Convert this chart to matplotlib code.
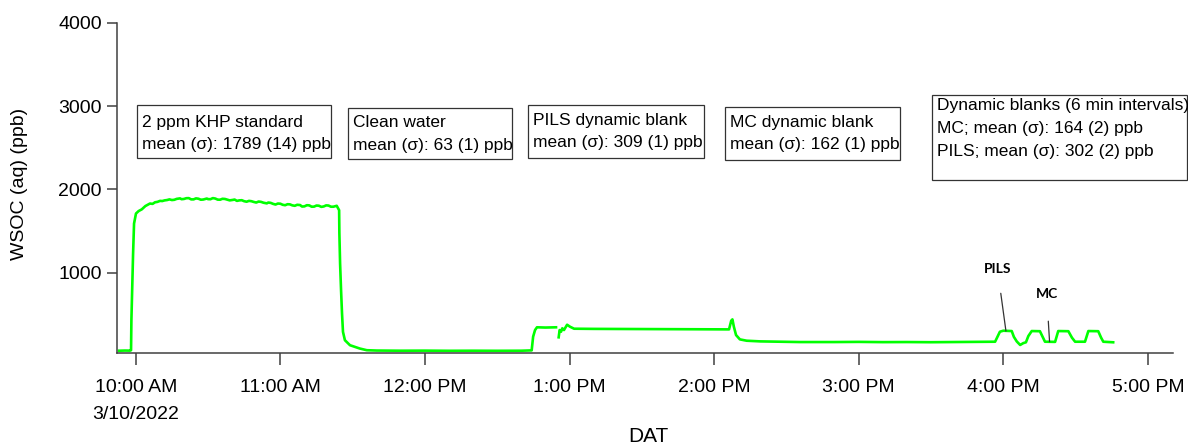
import datetime as dt
import numpy as np
import matplotlib
matplotlib.use('Agg')
import matplotlib.pyplot as plt
import matplotlib.dates as mdates
from matplotlib.patches import Rectangle
from matplotlib.ticker import FixedLocator, FuncFormatter

plt.rcParams['font.family'] = ['Liberation Sans', 'DejaVu Sans']

t0 = dt.datetime(2022, 3, 10, 10, 0)

# minutes after 10:00 AM and WSOC (ppb); nan = logging gap
minutes = [-6.9, -4.5, -2.4, -1.95, -1.8, -1.4, -1.1, -0.7, 0.1, 1.2,
           2.5, 4, 5.9, 7, 8, 9, 10.1, 11, 12, 13, 14, 15, 16, 17, 18.4, 19, 20,
           21, 22, 23, 24, 25, 26, 27, 28, 29.5, 30, 31, 32, 33, 34, 35, 36, 37,
           38, 39, 40.4, 41, 42, 43, 44, 45, 46, 47, 48, 49, 50, 51, 52, 53,
           54.4, 55, 56, 57, 58, 59, 60, 61, 62, 63, 64, 65, 66, 67, 68.2, 69,
           70, 71, 72, 73, 74, 75, 76, 77, 78, 79, 80, 81, 82, 83.4,
           84.4, 84.5, 84.8, 85.2, 85.6, 86.0, 86.8, 88.9, 93.0, 95.9,
           100, 110, 120, 130, 140, 150, 160,
           164.3, 164.9, 165.7, 166.5, 170, 174.4, 174.9,
           175.5, 175.9, 176.5, 177.0, 177.7, 179.0, 180.2, 181.9,
           190, 206.3, 220, 234.1, 246.2, 247.1, 247.6, 248.2, 249.1,
           250.7, 253.5, 259.1, 267.4, 275.6, 290, 300, 310, 320, 330,
           340, 350, 356.6,
           358.6, 360.0, 363.5, 364.4, 365.6, 367.0, 368.3, 369.4,
           370.4, 371.8, 375.2, 376.5, 377.3, 381.5,
           382.8, 387.0, 388.5, 389.8, 393.9,
           395.3, 399.4, 400.6, 401.5, 405.6]
wsoc = [64, 66, 65, 70, 430, 910, 1230, 1590, 1710, 1740,
        1760, 1800, 1830, 1826, 1845, 1850, 1862, 1860, 1868, 1872, 1880,
        1872, 1875, 1886, 1892, 1882, 1885, 1894, 1895, 1880, 1880, 1892,
        1888, 1876, 1878, 1890, 1883, 1882, 1895, 1890, 1877, 1876, 1887,
        1885, 1876, 1868, 1874, 1878, 1862, 1868, 1870, 1858, 1852, 1862,
        1858, 1849, 1842, 1854, 1850, 1840, 1832, 1842, 1838, 1826, 1818,
        1830, 1828, 1815, 1810, 1822, 1820, 1808, 1803, 1815, 1812, 1794,
        1796, 1810, 1808, 1792, 1793, 1806, 1804, 1790, 1795, 1808, 1806,
        1792, 1792, 1803,
        1750, 1475, 1110, 790, 510, 290, 190, 130, 90, 70,
        66, 64, 65, 63, 64, 63, 64,
        68, 232, 312, 345, 342, 345, np.nan,
        225, 312, 292, 333, 312, 376, 352, 328,
        326, 324, 322, 320, 320, 424, 440, 352, 252,
        200, 184, 176, 172, 168, 168, 170, 167, 168, 166,
        168, 170, 172,
        292, 304, 300, 230, 175, 133, 155, 165,
        240, 300, 298, 220, 172, 170,
        300, 298, 220, 172, 172,
        300, 298, 220, 172, 165]

# text boxes: label text and box edges (left, top, right, bottom) in figure pixels
box_texts = ['2 ppm KHP standard\nmean (σ): 1789 (14) ppb',
             'Clean water\nmean (σ): 63 (1) ppb',
             'PILS dynamic blank\nmean (σ): 309 (1) ppb',
             'MC dynamic blank\nmean (σ): 162 (1) ppb',
             'Dynamic blanks (6 min intervals)\nMC; mean (σ): 164 (2) ppb\nPILS; mean (σ): 302 (2) ppb']
box_edges = [(137.3, 105, 330.7, 158.3),
             (348.3, 107.7, 511.7, 159.3),
             (528.3, 105, 704, 158.3),
             (725, 106.7, 900, 160),
             (932.3, 95, 1187, 180)]
text_top = [114.5, 115, 112.5, 114.5, 98]

W, H = 1188, 446
times = [t0 + dt.timedelta(minutes=m) for m in minutes]

fig = plt.figure(figsize=(W / 100, H / 100), dpi=100)
ax = fig.add_axes([116.7 / W, 1 - 353.3 / H, (1172.7 - 116.7) / W, (353.3 - 22.7) / H])

ax.plot(times, wsoc, color='#00ff00', lw=1.9)

ax.set_xlim(t0 - dt.timedelta(minutes=7.9), t0 + dt.timedelta(minutes=430.3))
ax.set_ylim(33, 4000)

hours = [t0 + dt.timedelta(hours=h) for h in range(8)]
ax.xaxis.set_major_locator(FixedLocator(mdates.date2num(hours)))


def fmt_time(x, pos):
    d = mdates.num2date(x)
    h12 = d.hour % 12 or 12
    s = f"{h12}:{d.minute:02d} {'AM' if d.hour < 12 else 'PM'}"
    if pos == 0:
        s += f"\n{d.month}/{d.day}/{d.year}"
    return s


ax.xaxis.set_major_formatter(FuncFormatter(fmt_time))
ax.set_yticks([1000, 2000, 3000, 4000])

for s in ['top', 'right']:
    ax.spines[s].set_visible(False)
for s in ['left', 'bottom']:
    ax.spines[s].set_color('#404040')
    ax.spines[s].set_linewidth(1.1)
ax.tick_params(axis='x', length=8.6, width=1.1, color='#404040', pad=10, labelsize=14)
ax.tick_params(axis='y', length=7.2, width=1.1, color='#404040', pad=3.5, labelsize=14)
for lbl in ax.get_xticklabels():
    lbl.set_linespacing(1.75)

fig.text(20 / W, 1 - 184 / H, 'WSOC (aq) (ppb)', rotation=90, ha='center', va='center', fontsize=14)
fig.text(648 / W, 1 - 437 / H, 'DAT', ha='center', va='center', fontsize=15)

for txt, (l, t, r, b), top in zip(box_texts, box_edges, text_top):
    fig.patches.append(Rectangle((l / W, 1 - b / H), (r - l) / W, (b - t) / H,
                                 transform=fig.transFigure, fc='white', ec='#333333', lw=0.9))
    fig.text((l + 4.5) / W, 1 - top / H, txt, ha='left', va='top', fontsize=12.5,
             linespacing=1.65)

# arrows to the blank cycles
ax.annotate('PILS', xy=(t0 + dt.timedelta(minutes=361.1), 300),
            xytext=(t0 + dt.timedelta(minutes=357.6), 1040),
            ha='center', va='center', fontsize=10, fontweight='bold', family='Lato',
            arrowprops=dict(arrowstyle='-', color='#333333', lw=0.9, shrinkA=11, shrinkB=0))
ax.annotate('MC', xy=(t0 + dt.timedelta(minutes=379.2), 172),
            xytext=(t0 + dt.timedelta(minutes=378.0), 740),
            ha='center', va='center', fontsize=10, fontweight='bold', family='Lato',
            arrowprops=dict(arrowstyle='-', color='#333333', lw=0.9, shrinkA=13, shrinkB=0))

fig.savefig('out.png', dpi=100)
